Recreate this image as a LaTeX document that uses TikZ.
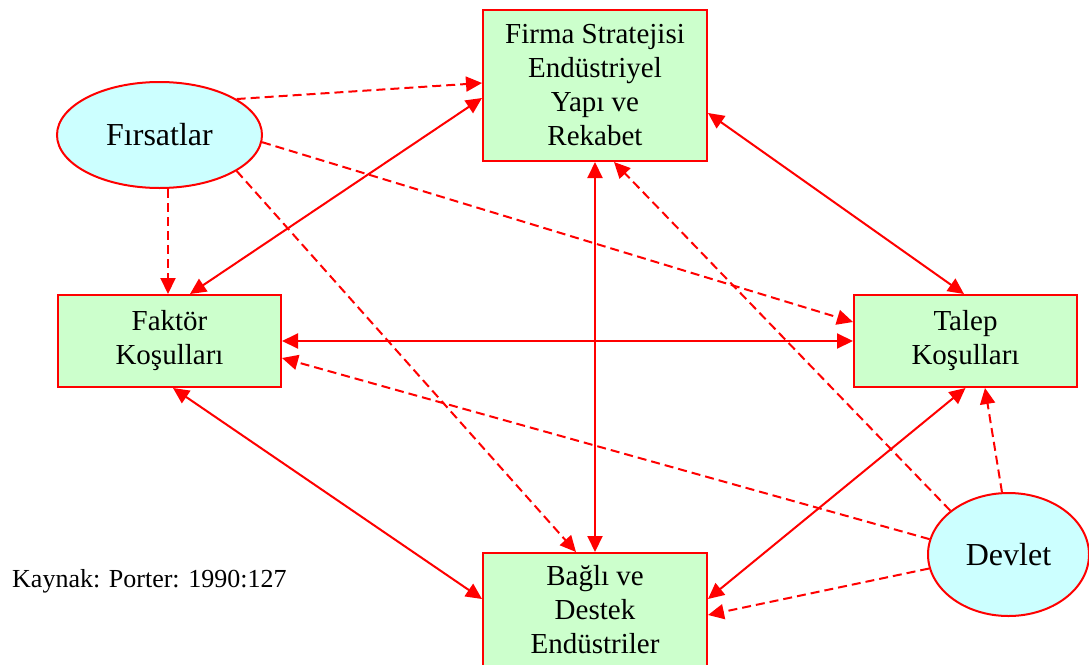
\documentclass[tikz,border=0pt]{standalone}
\usepackage{fontspec}
\setmainfont{Liberation Serif}
\usetikzlibrary{arrows.meta,shapes.geometric}
\definecolor{boxfill}{RGB}{204,255,204}
\definecolor{ellfill}{RGB}{204,255,255}
\definecolor{lred}{RGB}{255,0,0}
\tikzset{
  box/.style={draw=lred, line width=2pt, fill=boxfill, minimum width=224pt, inner sep=0pt, align=center, font=\fontsize{29}{34}\selectfont},
  ell/.style={ellipse, draw=lred, line width=2pt, fill=ellfill, inner sep=0pt, font=\fontsize{32}{38}\selectfont},
  both/.style={{Triangle[length=16pt,width=15pt]}-{Triangle[length=16pt,width=15pt]}, draw=lred, line width=2pt},
  one/.style={-{Triangle[length=16pt,width=15pt]}, draw=lred, line width=2pt, dash pattern=on 9pt off 5pt}
}
\begin{document}
\begin{tikzpicture}[x=1pt,y=-1pt]
\useasboundingbox (0,0) rectangle (1089,664);
\node[box, minimum height=151pt] (top) at (595,85.5) {Firma Stratejisi\\Endüstriyel\\Yapı ve\\Rekabet};
\node[box, minimum width=223pt, minimum height=92pt] (fak) at (169.5,341) {Faktör\\Koşulları};
\node[box, minimum width=223pt, minimum height=92pt] (tal) at (965.5,341) {Talep\\Koşulları};
\node[box, minimum height=114pt] (bot) at (595,610) {Bağlı ve\\Destek\\Endüstriler};
\node[ell, minimum width=205pt, minimum height=106pt] (fir) at (159.5,135) {Fırsatlar};
\node[ell, minimum width=161pt, minimum height=123pt] (dev) at (1008.5,554.5) {Devlet};
\node[anchor=base west, inner sep=0pt, font=\fontsize{26}{30}\selectfont] (kay) at (12,587) {Kaynak: Porter: 1990:127};
% solid double-headed
\draw[both] ([yshift=-12.5pt]top.west) -- ([xshift=20.5pt]fak.north);
\draw[both] ([yshift=-27.5pt]top.east) -- ([xshift=-1.5pt]tal.north);
\draw[both] (top.south) -- (bot.north);
\draw[both] (fak.east) -- (tal.west);
\draw[both] ([xshift=3.5pt]fak.south) -- ([yshift=11pt]bot.west);
\draw[both] (tal.south) -- ([yshift=11pt]bot.east);
% dashed
\draw[one] (fir.25) -- ([yshift=2.5pt]top.west);
\draw[one] ([xshift=8.5pt]fir.south) -- ([xshift=-1.5pt]fak.north);
\draw[one] (fir.-4) -- ([yshift=19pt]tal.west);
\draw[one] (fir.-25) -- ([xshift=-19pt]bot.north);
\draw[one] (dev.143) -- ([xshift=19pt]top.south);
\draw[one] (dev.96) -- ([xshift=19.5pt]tal.south);
\draw[one] (dev.169) -- ([yshift=-17pt]fak.east);
\draw[one] (dev.190.5) -- ([yshift=-5pt]bot.east);
\end{tikzpicture}
\end{document}
